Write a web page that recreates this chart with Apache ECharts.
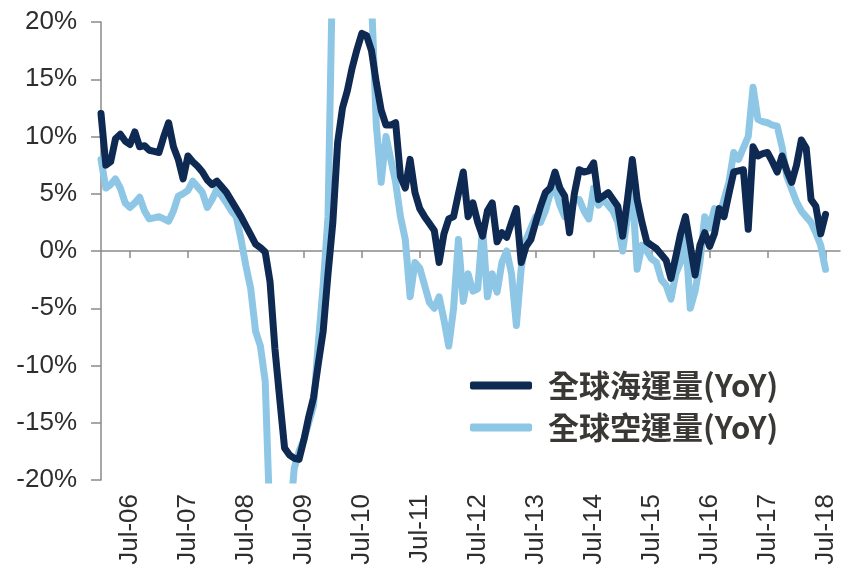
<!DOCTYPE html>
<html>
<head>
<meta charset="utf-8">
<script src="https://cdn.jsdelivr.net/npm/echarts@6/dist/echarts.min.js"></script>
<style>
  html, body { margin: 0; padding: 0; background: #fff; }
  #chart { width: 848px; height: 570px; }
</style>
</head>
<body>
<div id="chart"></div>
<script>
// Monthly categories, Jan-06 through Oct-18
const monthNames = ['Jan','Feb','Mar','Apr','May','Jun','Jul','Aug','Sep','Oct','Nov','Dec'];
const startYear = 2006;
const monthCount = 154;

// Tick labels shown on the time axis (every July)
const tickLabels = ['Jul-06','Jul-07','Jul-08','Jul-09','Jul-10','Jul-11','Jul-12',
                    'Jul-13','Jul-14','Jul-15','Jul-16','Jul-17','Jul-18'];

// Y-axis range and step (%)
const yMin = -20, yMax = 20, yStep = 5;

// Series names
const seaName = '全球海運量(YoY)';
const airName = '全球空運量(YoY)';

// Global sea freight volume, YoY %, monthly from Jan-06
const seaFreight = [
  12.0, 7.5, 7.8, 9.8, 10.2, 9.6, 9.3, 10.4, 9.1, 9.2, 8.8, 8.7,
  8.6, 10.0, 11.2, 9.1, 8.0, 6.3, 8.3, 7.8, 7.4, 6.9, 6.2, 5.8,
  6.1, 5.6, 5.1, 4.4, 3.7, 3.0, 2.2, 1.4, 0.6, 0.3, -0.1, -2.7,
  -8.5, -12.9, -17.2, -17.8, -18.1, -18.2, -16.5, -14.5, -12.8, -9.8, -7.0, -2.0,
  2.5, 9.5, 12.5, 14.0, 16.0, 17.6, 19.0, 18.8, 17.5, 14.7, 12.3, 11.0,
  11.0, 11.2, 6.5, 5.5, 8.0, 5.1, 3.7, 3.0, 2.4, 1.8, -1.0, 1.5,
  2.8, 3.0, 5.0, 6.9, 3.0, 4.2, 2.5, 1.3, 3.5, 4.2, 0.8, 1.6,
  1.2, 2.5, 3.7, -1.0, 0.4, 1.0, 2.5, 3.9, 5.1, 5.5, 6.9, 5.5,
  4.8, 1.6, 5.0, 7.1, 6.9, 7.0, 7.7, 4.5, 4.8, 5.1, 4.5, 3.9,
  1.3, 4.5, 8.0, 4.5, 2.5, 0.8, 0.5, 0.2, -0.3, -0.8, -2.4, -0.5,
  1.5, 3.0, 0.5, -2.1, 0.5, 1.6, 0.4, 1.5, 3.7, 3.0, 5.0, 6.9,
  7.0, 7.1, 1.9, 9.1, 8.3, 8.5, 8.6, 7.8, 6.9, 8.3, 7.0, 6.0,
  7.5, 9.7, 9.0, 4.5, 3.9, 1.5, 3.2
];

// Global air freight volume, YoY %, monthly from Jan-06
const airFreight = [
  8.0, 5.5, 5.8, 6.3, 5.5, 4.2, 3.8, 4.2, 4.7, 3.5, 2.8, 2.9,
  3.0, 2.8, 2.6, 3.5, 4.8, 5.0, 5.3, 6.1, 5.6, 5.1, 3.8, 4.5,
  5.4, 4.8, 4.2, 3.5, 3.0, 1.0, -1.3, -3.3, -7.0, -8.3, -11.4, -24.0,
  -26.0, -27.0, -26.0, -24.0, -19.0, -17.5, -16.5, -15.0, -13.5, -8.0, -3.0, 3.0,
  26.0, 30.0, 32.0, 33.0, 32.0, 30.0, 28.0, 25.0, 22.0, 11.0, 6.0, 10.0,
  8.0, 6.0, 3.0, 1.0, -4.0, -1.0, -1.5, -3.0, -4.5, -5.0, -4.0, -6.0,
  -8.3, -5.0, 1.0, -4.4, -2.0, -3.5, -3.3, 2.0, -4.0, -2.0, -3.6, -1.0,
  0.0, -2.0, -6.5, -1.5, 1.0, 2.0, 3.0, 2.5, 3.5, 5.0, 5.5, 4.0,
  3.0, 3.5, 4.5, 4.5, 3.5, 2.8, 5.5, 4.0, 4.5, 4.0, 3.5, 2.5,
  0.0, 3.0, 5.5, -1.6, 0.5, 0.0, -0.7, -1.0, -2.5, -3.0, -4.2, -2.0,
  -1.0, 1.5, -5.0, -3.5, -1.0, 3.0, 2.0, 3.7, 3.0, 4.5, 6.0, 8.6,
  8.0, 9.0, 10.0, 14.3, 11.5, 11.3, 11.2, 11.0, 10.9, 9.1, 6.5, 5.4,
  4.3, 3.5, 3.0, 2.5, 1.6, 0.5, -1.6
];

// Build "Mon-YY" category names
const categories = [];
for (let i = 0; i < monthCount; i++) {
  const y = startYear + Math.floor(i / 12);
  categories.push(monthNames[i % 12] + '-' + String(y).slice(2));
}
const isTick = (idx) => tickLabels.indexOf(categories[idx]) !== -1;

const seaColor = '#0e2a52';
const airColor = '#8ec6e5';
const axisColor = '#8a8a8a';
const textColor = '#2e2e2e';

const chart = echarts.init(document.getElementById('chart'), null, { renderer: 'canvas' });

chart.setOption({
  animation: false,
  backgroundColor: '#ffffff',
  grid: { left: 101, right: 8, top: 22, bottom: 90, containLabel: false },
  legend: {
    orient: 'vertical',
    left: 466,
    top: 366,
    data: [seaName, airName],
    icon: 'roundRect',
    itemWidth: 62,
    itemHeight: 8,
    itemGap: 11,
    padding: [4, 6, 6, 4],
    backgroundColor: '#ffffff',
    textStyle: {
      fontFamily: '"Noto Sans CJK TC", "Noto Sans CJK SC", sans-serif',
      fontSize: 31,
      fontWeight: 'bold',
      color: '#3a3835',
      padding: [0, 0, 0, 11]
    }
  },
  xAxis: [
    {
      type: 'category',
      data: categories,
      boundaryGap: false,
      position: 'bottom',
      axisLine: { show: false, onZero: false },
      axisTick: { show: false },
      axisLabel: {
        interval: (idx) => isTick(idx),
        rotate: 90,
        margin: 14,
        fontFamily: '"Liberation Sans", Arial, sans-serif',
        fontSize: 26,
        color: textColor
      },
      splitLine: { show: false }
    },
    {
      type: 'category',
      data: categories,
      boundaryGap: false,
      position: 'top',
      axisLine: { show: true, onZero: true, lineStyle: { color: axisColor, width: 1.5 } },
      axisTick: {
        show: true,
        inside: true,
        length: 7,
        interval: (idx) => isTick(idx),
        lineStyle: { color: axisColor, width: 1.5 }
      },
      axisLabel: { show: false },
      splitLine: { show: false }
    }
  ],
  yAxis: {
    type: 'value',
    min: yMin,
    max: yMax,
    interval: yStep,
    axisLine: { show: true, lineStyle: { color: axisColor, width: 1.5 } },
    axisTick: { show: true, length: 10, lineStyle: { color: axisColor, width: 1.5 } },
    axisLabel: {
      formatter: (v) => v + '%',
      margin: 24,
      fontFamily: '"Liberation Sans", Arial, sans-serif',
      fontSize: 26,
      color: textColor
    },
    splitLine: { show: false }
  },
  series: [
    {
      name: airName,
      type: 'line',
      xAxisIndex: 0,
      data: airFreight,
      symbol: 'none',
      color: airColor,
      lineStyle: { color: airColor, width: 7, cap: 'round', join: 'round' },
      clip: true,
      z: 2
    },
    {
      name: seaName,
      type: 'line',
      xAxisIndex: 0,
      data: seaFreight,
      symbol: 'none',
      color: seaColor,
      lineStyle: { color: seaColor, width: 7, cap: 'round', join: 'round' },
      clip: true,
      z: 3
    }
  ]
});
</script>
</body>
</html>
